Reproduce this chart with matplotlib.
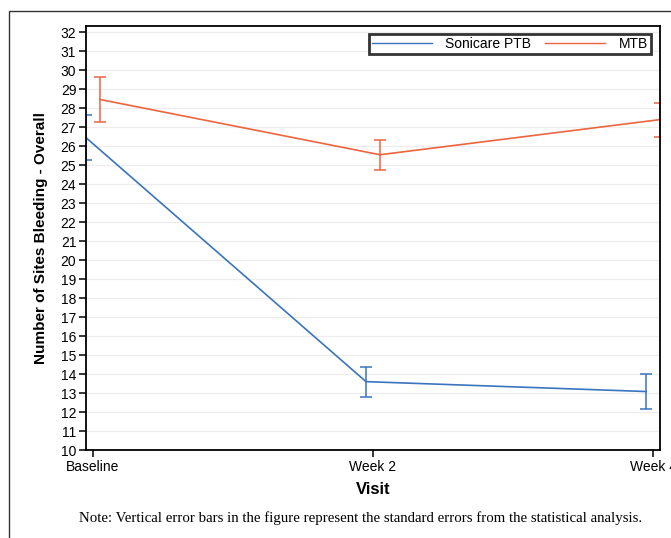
import matplotlib
matplotlib.use("Agg")
import matplotlib.pyplot as plt
from matplotlib.patches import Rectangle
import numpy as np

plt.rcParams['font.family'] = ['Liberation Sans', 'DejaVu Sans']

visits = ["Baseline", "Week 2", "Week 4"]
sonicare_mean = [26.45, 13.60, 13.08]
sonicare_se = [1.18, 0.79, 0.91]
mtb_mean = [28.46, 25.55, 27.40]
mtb_se = [1.17, 0.79, 0.90]
yticks = list(range(10, 33))

blue = '#3A74BE'
orange = '#EC6440'

fig = plt.figure(figsize=(6.71, 5.38), dpi=100)
ax = fig.add_axes([86/671, 1 - 450/538, (660 - 86)/671, (450 - 26)/538])

x = np.arange(len(visits))
off = 0.025
ax.errorbar(x - off, sonicare_mean, yerr=sonicare_se, color=blue, lw=1.2,
            capsize=4.3, capthick=1.1, elinewidth=1.1, label='Sonicare PTB', zorder=3)
ax.errorbar(x + off, mtb_mean, yerr=mtb_se, color=orange, lw=1.2,
            capsize=4.3, capthick=1.1, elinewidth=1.1, label='MTB', zorder=3)

ax.set_xlim(-off, 2 + off)
ax.set_ylim(10, 32.33)
ax.set_yticks(yticks)
ax.set_yticklabels([str(t) for t in yticks], fontsize=10)
ax.set_xticks(x)
ax.set_xticklabels(visits, fontsize=10)
ax.tick_params(axis='both', direction='out', length=5, width=1.1, color='black', pad=2)
for s in ax.spines.values():
    s.set_linewidth(1.3)
    s.set_color('black')
    s.set_zorder(5)
ax.yaxis.grid(True, color='#EDEDED', lw=0.9)
ax.set_axisbelow(True)

ax.set_ylabel('Number of Sites Bleeding - Overall', fontsize=11, fontweight='bold', labelpad=9)
ax.set_xlabel('Visit', fontsize=12, fontweight='bold', labelpad=6)

h, l = ax.get_legend_handles_labels()
h = [hh[0] for hh in h]
leg = ax.legend(h, l, loc='upper right', ncol=2, frameon=True, fancybox=False,
                fontsize=10, bbox_to_anchor=(1.0 - 9/574, 1.0 - 8/424),
                borderpad=0.2, handlelength=4.3, columnspacing=1.0, handletextpad=1.0,
                borderaxespad=0)
leg.get_frame().set_edgecolor('black')
leg.get_frame().set_linewidth(2.0)
for lh in leg.get_lines():
    lh.set_linewidth(1.0)

fig.patches.append(Rectangle((9/671, -0.1), 1.2, (538 - 11)/538 + 0.1,
                             transform=fig.transFigure, fill=False,
                             edgecolor='#333333', lw=1.0))

fig.text(361/671, 1 - 518/538,
         'Note: Vertical error bars in the figure represent the standard errors from the statistical analysis.',
         ha='center', va='center', fontsize=10.7, family=['Liberation Serif', 'DejaVu Serif'])

fig.savefig('out.png', dpi=100)
